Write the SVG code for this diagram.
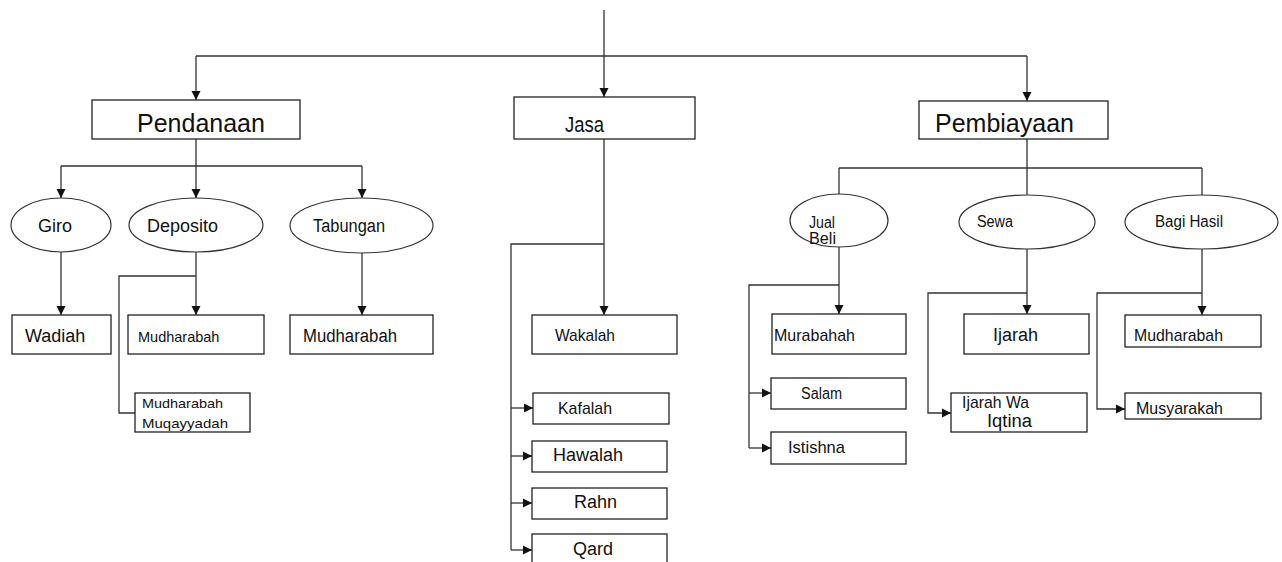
<svg xmlns="http://www.w3.org/2000/svg" width="1282" height="562" viewBox="0 0 1282 562">
<defs>
<marker id="ah" viewBox="0 0 10 10" refX="10" refY="5" markerWidth="9" markerHeight="10" markerUnits="userSpaceOnUse" orient="auto">
<path d="M0,0 L10,5 L0,10 z" fill="#111"/>
</marker>
<style>
.c{fill:none;stroke:#333;stroke-width:1.3}
.a{marker-end:url(#ah)}
.b{fill:#fff;stroke:#222;stroke-width:1.3}
.e{fill:#fff;stroke:#333;stroke-width:1.2}
text{font-family:"Liberation Sans",Arial,sans-serif;fill:#111}
</style>
</defs>
<rect width="1282" height="562" fill="#fff"/>
<g id="connectors">
<path class="c" d="M196,56 H1027"/>
<path class="c a" d="M604,10 V97"/>
<path class="c a" d="M196,56 V100"/>
<path class="c a" d="M1027,56 V101"/>
<path class="c" d="M196,139 V166 M61,166 H362"/>
<path class="c a" d="M61,166 V198"/>
<path class="c a" d="M196,166 V198"/>
<path class="c a" d="M362,166 V198"/>
<path class="c a" d="M61,252 V315"/>
<path class="c a" d="M196,252 V315"/>
<path class="c" d="M196,276 H119 V413 H135"/>
<path class="c a" d="M362,253 V315"/>
<path class="c a" d="M604,139 V315"/>
<path class="c" d="M604,244 H511 V550"/>
<path class="c a" d="M511,408 H533"/>
<path class="c a" d="M511,456 H532"/>
<path class="c a" d="M511,503 H532"/>
<path class="c a" d="M511,550 H532"/>
<path class="c" d="M1027,139 V168 M839,168 H1202 M839,168 V194 M1027,168 V195 M1202,168 V195"/>
<path class="c a" d="M839,247 V314"/>
<path class="c" d="M839,285 H749 V448"/>
<path class="c a" d="M749,393 H771"/>
<path class="c a" d="M749,448 H771"/>
<path class="c a" d="M1027,249 V314"/>
<path class="c a" d="M1027,293 H928 V413 H951"/>
<path class="c a" d="M1202,249 V315"/>
<path class="c a" d="M1202,293 H1097 V409 H1125"/>
</g>
<g id="pendanaan"><rect class="b" x="92" y="100" width="208" height="39"/><text x="137" y="132" font-size="25">Pendanaan</text></g>
<g id="jasa"><rect class="b" x="514" y="97" width="181" height="42"/><text x="565" y="132" font-size="22" textLength="39" lengthAdjust="spacingAndGlyphs">Jasa</text></g>
<g id="pembiayaan"><rect class="b" x="919" y="101" width="189" height="38"/><text x="935" y="132" font-size="25">Pembiayaan</text></g>
<g id="giro"><ellipse class="e" cx="61" cy="225" rx="50" ry="27"/><text x="38" y="232" font-size="18">Giro</text></g>
<g id="deposito"><ellipse class="e" cx="196" cy="225" rx="67" ry="27"/><text x="147" y="232" font-size="18">Deposito</text></g>
<g id="tabungan"><ellipse class="e" cx="361.5" cy="225.5" rx="71.5" ry="27.5"/><text x="313" y="232" font-size="18" textLength="72" lengthAdjust="spacingAndGlyphs">Tabungan</text></g>
<g id="wadiah"><rect class="b" x="12" y="315" width="99" height="39"/><text x="25" y="342" font-size="18">Wadiah</text></g>
<g id="mudharabah-deposito"><rect class="b" x="128" y="315" width="136" height="39"/><text x="138" y="342" font-size="14.5">Mudharabah</text></g>
<g id="mudharabah-muqayyadah"><rect class="b" x="135" y="393" width="115" height="39"/><text x="142" y="408" font-size="13.5" textLength="81" lengthAdjust="spacingAndGlyphs">Mudharabah</text><text x="142" y="428" font-size="13.5" textLength="86" lengthAdjust="spacingAndGlyphs">Muqayyadah</text></g>
<g id="mudharabah-tabungan"><rect class="b" x="290" y="315" width="143" height="39"/><text x="303" y="342" font-size="18" textLength="94" lengthAdjust="spacingAndGlyphs">Mudharabah</text></g>
<g id="wakalah"><rect class="b" x="532" y="315" width="145" height="39"/><text x="555" y="341" font-size="17" textLength="60" lengthAdjust="spacingAndGlyphs">Wakalah</text></g>
<g id="kafalah"><rect class="b" x="533" y="393" width="136" height="31"/><text x="558" y="414" font-size="17" textLength="54" lengthAdjust="spacingAndGlyphs">Kafalah</text></g>
<g id="hawalah"><rect class="b" x="532" y="441" width="135" height="31"/><text x="553" y="461" font-size="18">Hawalah</text></g>
<g id="rahn"><rect class="b" x="532" y="488" width="135" height="31"/><text x="574" y="508" font-size="18">Rahn</text></g>
<g id="qard"><rect class="b" x="532" y="534" width="135" height="40"/><text x="573" y="555" font-size="18">Qard</text></g>
<g id="jual-beli"><ellipse class="e" cx="839" cy="220.5" rx="49" ry="26.5"/><text x="809" y="228" font-size="16" textLength="26" lengthAdjust="spacingAndGlyphs">Jual</text><text x="809" y="244" font-size="16" textLength="27" lengthAdjust="spacingAndGlyphs">Beli</text></g>
<g id="sewa"><ellipse class="e" cx="1027" cy="222" rx="68" ry="27"/><text x="977" y="227" font-size="16" textLength="36" lengthAdjust="spacingAndGlyphs">Sewa</text></g>
<g id="bagi-hasil"><ellipse class="e" cx="1201.5" cy="222" rx="76.5" ry="27"/><text x="1155" y="227" font-size="16" textLength="68" lengthAdjust="spacingAndGlyphs">Bagi Hasil</text></g>
<g id="murabahah"><rect class="b" x="772" y="314" width="134" height="40"/><text x="774" y="341" font-size="17" textLength="81" lengthAdjust="spacingAndGlyphs">Murabahah</text></g>
<g id="salam"><rect class="b" x="771" y="378" width="135" height="31"/><text x="801" y="399" font-size="16" textLength="41" lengthAdjust="spacingAndGlyphs">Salam</text></g>
<g id="istishna"><rect class="b" x="771" y="432" width="135" height="32"/><text x="788" y="453" font-size="17" textLength="57" lengthAdjust="spacingAndGlyphs">Istishna</text></g>
<g id="ijarah"><rect class="b" x="964" y="314" width="125" height="40"/><text x="993" y="341" font-size="18" textLength="45" lengthAdjust="spacingAndGlyphs">Ijarah</text></g>
<g id="ijarah-wa-iqtina"><rect class="b" x="951" y="393" width="136" height="39"/><text x="962" y="408" font-size="17" textLength="67" lengthAdjust="spacingAndGlyphs">Ijarah Wa</text><text x="987" y="427" font-size="18" textLength="45" lengthAdjust="spacingAndGlyphs">Iqtina</text></g>
<g id="mudharabah-bagi-hasil"><rect class="b" x="1125" y="315" width="136" height="32"/><text x="1134" y="341" font-size="17" textLength="89" lengthAdjust="spacingAndGlyphs">Mudharabah</text></g>
<g id="musyarakah"><rect class="b" x="1125" y="393" width="136" height="26"/><text x="1136" y="414" font-size="17" textLength="87" lengthAdjust="spacingAndGlyphs">Musyarakah</text></g>
</svg>
